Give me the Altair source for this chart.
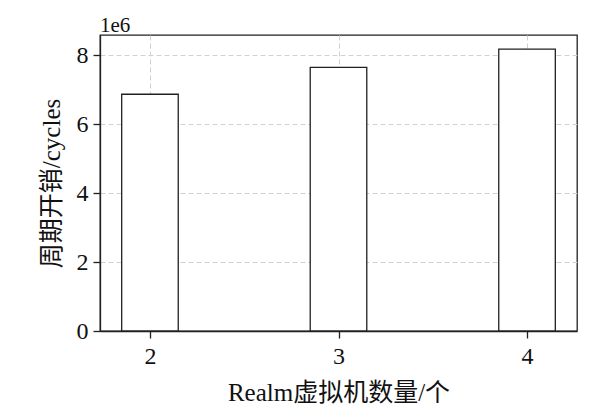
import altair as alt
import pandas as pd

vm_counts = [2, 3, 4]
cycles = [6.87e6, 7.65e6, 8.18e6]
x_ticks = [2, 3, 4]
y_ticks = [0, 2e6, 4e6, 6e6, 8e6]

df = pd.DataFrame({"n": vm_counts, "c": cycles})

FONT = "Liberation Serif, Noto Sans CJK SC"
NUM_FONT = "Liberation Serif"

x_scale = alt.Scale(domain=[1.735, 4.265], nice=False, zero=False)
y_scale = alt.Scale(domain=[0, 8.59e6], nice=False)

common_axis = dict(
    labelFont=NUM_FONT, titleFont=FONT, labelFontSize=24, titleFontSize=25,
    labelColor="#111", titleColor="#111", titleFontWeight="normal",
    domainColor="#231f20", domainWidth=1.3, tickColor="#231f20", tickWidth=1.3,
    tickSize=7, grid=True, gridColor="#d0d0d0", gridDash=[5, 3], gridWidth=1,
)

bars = alt.Chart(df).transform_calculate(
    x0="datum.n - 0.15", x1="datum.n + 0.15"
).mark_bar(fill="white", stroke="#231f20", strokeWidth=1.3).encode(
    x=alt.X("x0:Q", scale=x_scale,
            axis=alt.Axis(values=x_ticks, title="Realm虚拟机数量/个", format="d",
                          labelPadding=6, titlePadding=12, **common_axis)),
    x2="x1:Q",
    y=alt.Y("c:Q", scale=y_scale,
            axis=alt.Axis(values=y_ticks, title="周期开销/cycles",
                          labelExpr="format(datum.value/1e6, 'd')",
                          labelPadding=5, titlePadding=12, **common_axis)),
    y2=alt.datum(0),
)

exp_label = alt.Chart(pd.DataFrame({"t": ["1e6"]})).mark_text(
    align="left", baseline="alphabetic", fontSize=21, font=NUM_FONT, color="#111"
).encode(x=alt.value(0), y=alt.value(-3), text="t:N")

chart = alt.layer(bars, exp_label).properties(
    width=477, height=296,
    autosize=alt.AutoSizeParams(type="none"),
    padding={"left": 92, "top": 27, "right": 10, "bottom": 85},
).configure_view(stroke="#231f20", strokeWidth=1.3)

chart.save("out.html", embed_options={"renderer": "svg", "actions": False})
